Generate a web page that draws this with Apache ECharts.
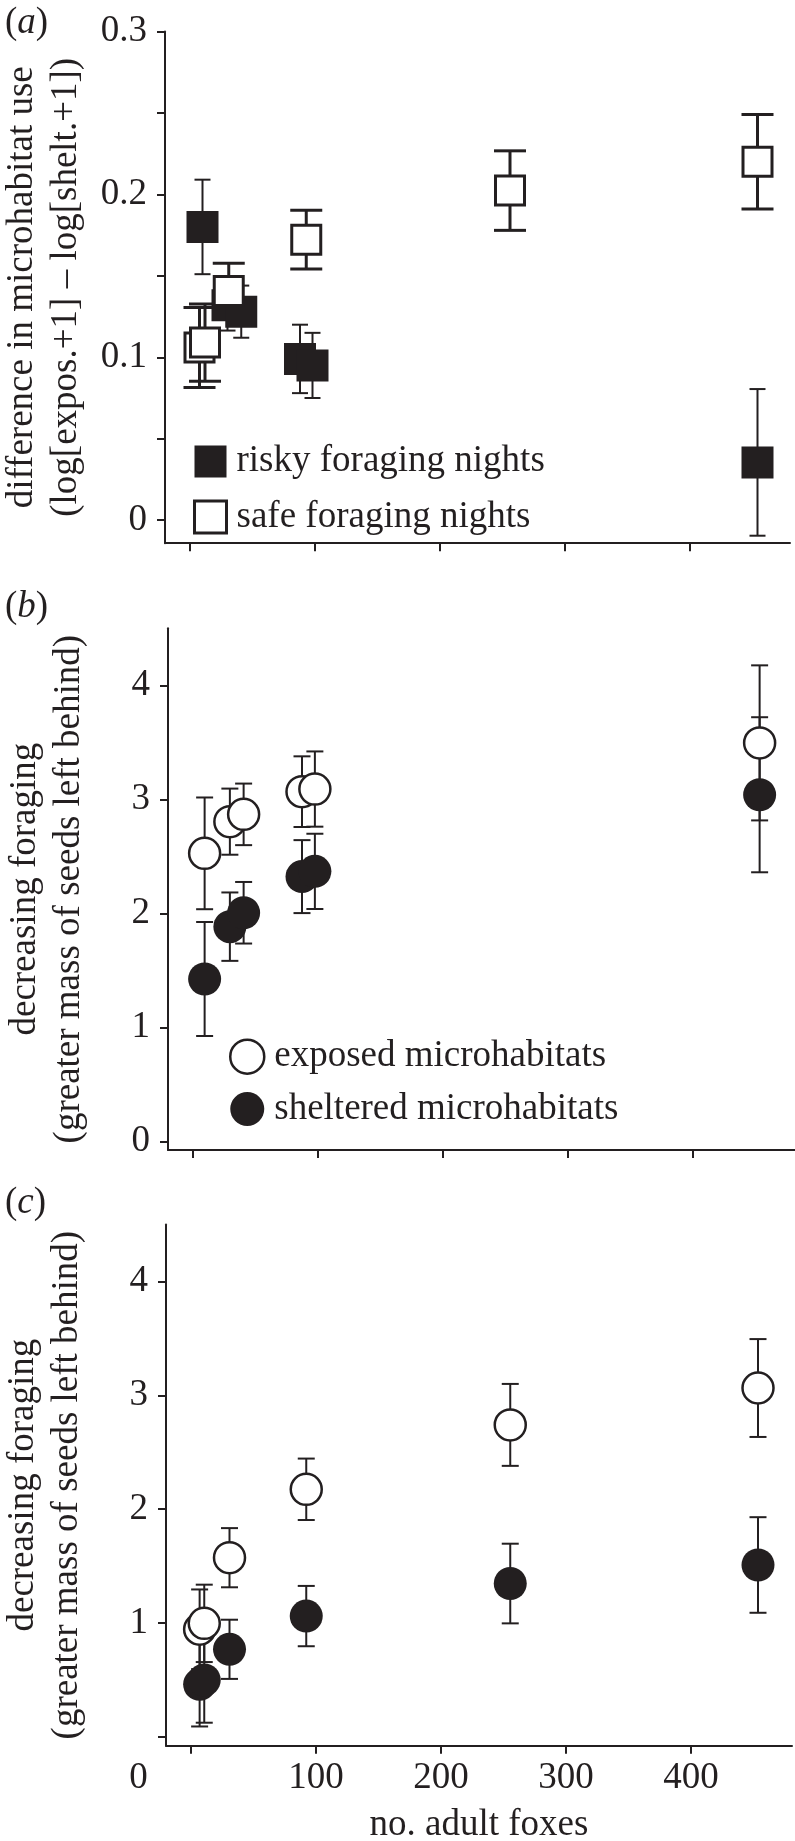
<!DOCTYPE html>
<html><head><meta charset="utf-8">
<script src="https://cdn.jsdelivr.net/npm/echarts@6/dist/echarts.min.js"></script>
<style>html,body{margin:0;padding:0;background:#fff}#c{width:795px;height:1841px}</style>
</head><body><div id="c"></div>
<script>
// ---------- data ----------
const xTickValues = [0, 100, 200, 300, 400];
// panel (a)
const aRiskyX   = [10, 30, 41, 88, 98, 454];
const aRiskyY   = [0.180, 0.132, 0.128, 0.099, 0.095, 0.0355];
const aRiskyErr = [0.029, 0.0156, 0.016, 0.021, 0.020, 0.045];
const aSafeX    = [7.6, 12, 31, 93, 256, 454];
const aSafeY    = [0.106, 0.109, 0.1407, 0.1722, 0.2023, 0.220];
const aSafeErr  = [0.0246, 0.0237, 0.017, 0.018, 0.0244, 0.029];
const aYTicks   = [0, 0.05, 0.1, 0.15, 0.2, 0.25, 0.3];
const aYLabels  = [0, 0.1, 0.2, 0.3];
// panel (b)
const bX        = [9.3, 29.5, 40.5, 87.2, 97.5, 453.3];
const bExp      = [2.526, 2.804, 2.868, 3.067, 3.09, 3.495];
const bExpErr   = [0.49, 0.29, 0.27, 0.31, 0.33, 0.68];
const bShel     = [1.424, 1.883, 2.005, 2.322, 2.368, 3.04];
const bShelErr  = [0.50, 0.30, 0.27, 0.32, 0.33, 0.68];
const bYTicks   = [0, 1, 2, 3, 4];
const bYLabels  = [0, 1, 2, 3, 4];
// panel (c)
const cX        = [6.9, 10.6, 30.8, 92.2, 255.4, 453.6];
const cExp      = [0.944, 0.996, 1.573, 2.174, 2.74, 3.064];
const cExpErr   = [0.35, 0.34, 0.26, 0.27, 0.36, 0.43];
const cShel     = [0.46, 0.498, 0.768, 1.06, 1.346, 1.509];
const cShelErr  = [0.37, 0.375, 0.26, 0.265, 0.35, 0.42];
const cYTicks   = [0, 1, 2, 3, 4];
const cYLabels  = [1, 2, 3, 4];

const labelsA = ['risky foraging nights', 'safe foraging nights'];
const labelsB = ['exposed microhabitats', 'sheltered microhabitats'];

// ---------- style ----------
const INK = '#231f20';
const FONT = '"Liberation Serif", "Times New Roman", serif';
const FS = 37;

function pts(xs, ys) { return xs.map((x, i) => [x, ys[i]]); }

function errSeries(ax, xs, ys, errs, capW, lw) {
  return {
    type: 'custom', xAxisIndex: ax, yAxisIndex: ax, silent: true, clip: false,
    data: xs.map((x, i) => [x, ys[i] - errs[i], ys[i] + errs[i]]),
    encode: { x: 0, y: [1, 2] },
    renderItem(params, api) {
      const lo = api.coord([api.value(0), api.value(1)]);
      const hi = api.coord([api.value(0), api.value(2)]);
      const h = capW / 2;
      const style = { stroke: INK, lineWidth: lw, fill: null };
      return { type: 'group', children: [
        { type: 'line', shape: { x1: lo[0], y1: lo[1], x2: hi[0], y2: hi[1] }, style },
        { type: 'line', shape: { x1: lo[0] - h, y1: lo[1], x2: lo[0] + h, y2: lo[1] }, style },
        { type: 'line', shape: { x1: hi[0] - h, y1: hi[1], x2: hi[0] + h, y2: hi[1] }, style }
      ]};
    }
  };
}

function scatter(ax, name, xs, ys, symbol, size, fill, bw) {
  return {
    type: 'scatter', name, xAxisIndex: ax, yAxisIndex: ax, data: pts(xs, ys),
    symbol, symbolSize: size, silent: true,
    itemStyle: { color: fill, borderColor: INK, borderWidth: bw, opacity: 1 },
    emphasis: { disabled: true }
  };
}

const axisLine = { show: true, onZero: false, lineStyle: { color: INK, width: 2 } };
const axisTick = (vals) => ({ show: true, inside: false, length: 8, lineStyle: { color: INK, width: 2 }, customValues: vals });

function xAxis(gi, min, max, showLabels) {
  const ax = {
    type: 'value', gridIndex: gi, min, max,
    axisLine, axisTick: axisTick(xTickValues), splitLine: { show: false },
    axisLabel: { show: false }
  };
  if (showLabels) {
    ax.axisLabel = {
      show: true, customValues: xTickValues, margin: 14,
      fontFamily: FONT, fontSize: FS, color: INK,
      formatter: v => v === 0 ? '{o|0}' : String(v),
      rich: { o: { padding: [0, 105, 0, 0], fontFamily: FONT, fontSize: FS, color: INK } }
    };
    ax.name = 'no. adult foxes';
    ax.nameLocation = 'middle';
    ax.nameGap = 61;
    ax.nameTextStyle = { fontFamily: FONT, fontSize: FS, color: INK };
  }
  return ax;
}

function yAxis(gi, min, max, ticks, labels, name) {
  return {
    type: 'value', gridIndex: gi, min, max,
    axisLine, axisTick: axisTick(ticks), splitLine: { show: false },
    axisLabel: { show: true, customValues: labels, margin: 18, fontFamily: FONT, fontSize: FS, color: INK,
                 formatter: v => String(v) },
    name, nameLocation: 'middle', nameRotate: 90, nameGap: 77,
    nameTextStyle: { fontFamily: FONT, fontSize: FS, color: INK, lineHeight: 44 }
  };
}

function panelTitle(letter, top) {
  return {
    text: '{p|(}{i|' + letter + '}{p|)}', left: 5, top, padding: 0,
    textStyle: {
      fontFamily: FONT, fontSize: FS, color: INK, fontWeight: 'normal',
      rich: {
        p: { fontFamily: FONT, fontSize: FS, color: INK, lineHeight: 37 },
        i: { fontFamily: FONT, fontSize: FS, color: INK, fontStyle: 'italic', lineHeight: 37 }
      }
    }
  };
}

const legendText = { fontFamily: FONT, fontSize: FS, color: INK, lineHeight: 37, padding: [0, 0, 0, 5] };

const option = {
  animation: false,
  backgroundColor: '#fff',
  title: [panelTitle('a', 4.5), panelTitle('b', 589), panelTitle('c', 1184.5)],
  grid: [
    { left: 165, top: 31.4, width: 625, height: 511.8, outerBoundsMode: 'none', containLabel: false },
    { left: 168, top: 628.3, width: 627, height: 521.7, outerBoundsMode: 'none', containLabel: false },
    { left: 166, top: 1224.6, width: 626, height: 521.1, outerBoundsMode: 'none', containLabel: false }
  ],
  xAxis: [xAxis(0, -20, 480, false), xAxis(1, -20, 481.6, false), xAxis(2, -20, 480.8, true)],
  yAxis: [
    yAxis(0, -0.0141, 0.3, aYTicks, aYLabels, 'difference in microhabitat use\n(log[expos.+1] \u2013 log[shelt.+1])'),
    yAxis(1, -0.076, 4.5, bYTicks, bYLabels, 'decreasing foraging\n(greater mass of seeds left behind)'),
    yAxis(2, -0.079, 4.5, cYTicks, cYLabels, 'decreasing foraging\n(greater mass of seeds left behind)')
  ],
  legend: [
    { orient: 'vertical', left: 193, top: 443, itemWidth: 32, itemHeight: 32, itemGap: 18.5, padding: 0,
      selectedMode: false, textStyle: legendText,
      data: [
        { name: labelsA[0], icon: 'rect', itemStyle: { color: INK, borderColor: INK, borderWidth: 0 } },
        { name: labelsA[1], icon: 'rect', itemStyle: { color: '#fff', borderColor: INK, borderWidth: 3 } }
      ] },
    { orient: 'vertical', left: 229, top: 1038.2, itemWidth: 34, itemHeight: 34, itemGap: 15.3, padding: 0,
      selectedMode: false, textStyle: legendText,
      data: [
        { name: labelsB[0], icon: 'circle', itemStyle: { color: '#fff', borderColor: INK, borderWidth: 2.5 } },
        { name: labelsB[1], icon: 'circle', itemStyle: { color: INK, borderColor: INK, borderWidth: 0 } }
      ] }
  ],
  series: [
    // panel (a)
    errSeries(0, aRiskyX, aRiskyY, aRiskyErr, 16, 2),
    scatter(0, labelsA[0], aRiskyX, aRiskyY, 'rect', 32, INK, 0),
    errSeries(0, aSafeX, aSafeY, aSafeErr, 32, 3),
    scatter(0, labelsA[1], aSafeX, aSafeY, 'rect', 29, '#fff', 3),
    // panel (b)
    errSeries(1, bX, bExp, bExpErr, 17, 2),
    errSeries(1, bX, bShel, bShelErr, 17, 2),
    scatter(1, labelsB[0], bX, bExp, 'circle', 31, '#fff', 2.5),
    scatter(1, labelsB[1], bX, bShel, 'circle', 33, INK, 0),
    // panel (c)
    errSeries(2, cX, cExp, cExpErr, 17, 2),
    errSeries(2, cX, cShel, cShelErr, 17, 2),
    scatter(2, labelsB[0], cX, cExp, 'circle', 31, '#fff', 2.5),
    scatter(2, labelsB[1], cX, cShel, 'circle', 33, INK, 0)
  ]
};

const chart = echarts.init(document.getElementById('c'), null, { renderer: 'canvas', width: 795, height: 1841 });
chart.setOption(option);
</script>
</body></html>
